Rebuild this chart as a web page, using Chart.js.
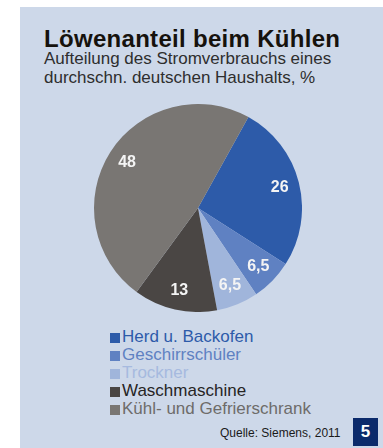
<!DOCTYPE html>
<html lang="de">
<head>
<meta charset="utf-8">
<title>Löwenanteil beim Kühlen</title>
<script src="https://cdn.jsdelivr.net/npm/chart.js@4.4.1/dist/chart.umd.min.js"></script>
<style>
  html, body { margin: 0; padding: 0; background: #fff; }
  body { width: 383px; height: 448px; position: relative; overflow: hidden;
         font-family: "Liberation Sans", Arial, sans-serif; }
  #panel { position: absolute; left: 20px; top: 7px; right: 0; bottom: 0; background: #cdd8e9; }
  .txt { position: absolute; white-space: nowrap; line-height: 1; }
  #title { left: 44px; top: 27px; font-size: 24px; font-weight: bold; color: #16120d; letter-spacing: 0.3px; }
  #sub1 { left: 44px; top: 50px; font-size: 17px; color: #2e2e2e; }
  #sub2 { left: 44px; top: 69px; font-size: 17px; color: #2e2e2e; }
  #pie { position: absolute; left: 94px; top: 104px; }
  #legend { position: absolute; left: 110px; top: 328px; }
  .item { position: relative; height: 18px; font-size: 17px; line-height: 18px; }
  .item i { position: absolute; left: 0; top: 5px; width: 10px; height: 10px; }
  .item span { position: absolute; left: 12px; top: 0; white-space: nowrap; }
  #source { left: 220px; top: 427px; font-size: 12px; color: #1a1a1a; }
  #page { position: absolute; left: 353px; top: 418px; width: 25px; height: 28px; background: #0b2a6b;
          color: #fff; font-weight: bold; font-size: 17px; line-height: 28px; text-align: center; }
</style>
</head>
<body>
<div id="panel"></div>
<div class="txt" id="title">Löwenanteil beim Kühlen</div>
<div class="txt" id="sub1">Aufteilung des Stromverbrauchs eines</div>
<div class="txt" id="sub2">durchschn. deutschen Haushalts, %</div>
<canvas id="pie" width="208" height="208"></canvas>
<div id="legend"></div>
<div class="txt" id="source">Quelle: Siemens, 2011</div>
<div id="page">5</div>
<script>
// Stromverbrauch nach Geräten, Anteil in %
var categories = ['Herd u. Backofen', 'Geschirrschüler', 'Trockner', 'Waschmaschine', 'Kühl- und Gefrierschrank'];
var shares = [26, 6.5, 6.5, 13, 48];
var sliceColors = ['#2d5ba9', '#5f81c2', '#a0b5db', '#4a4644', '#797673'];
var legendTextColors = ['#2d5ba9', '#5f81c2', '#a6badf', '#262424', '#6e6c6a'];

// values written inside the slices
var sliceLabels = {
  id: 'sliceLabels',
  afterDatasetsDraw: function (chart) {
    var ctx = chart.ctx;
    var meta = chart.getDatasetMeta(0);
    ctx.save();
    ctx.font = 'bold 16px "Liberation Sans", Arial, sans-serif';
    ctx.fillStyle = '#f4f4f4';
    ctx.textAlign = 'center';
    ctx.textBaseline = 'middle';
    meta.data.forEach(function (arc, i) {
      var p = arc.getProps(['x', 'y', 'startAngle', 'endAngle', 'outerRadius'], true);
      var mid = (p.startAngle + p.endAngle) / 2;
      var r = p.outerRadius * 0.81;
      var text = shares[i].toLocaleString('de-DE');
      ctx.fillText(text, p.x + Math.cos(mid) * r, p.y + Math.sin(mid) * r);
    });
    ctx.restore();
  }
};

new Chart(document.getElementById('pie'), {
  type: 'pie',
  data: {
    labels: categories,
    datasets: [{
      data: shares,
      backgroundColor: sliceColors,
      borderWidth: 0,
      hoverOffset: 0
    }]
  },
  options: {
    responsive: false,
    animation: false,
    rotation: 29,
    layout: { padding: 0 },
    plugins: {
      legend: { display: false },
      tooltip: { enabled: false }
    }
  },
  plugins: [sliceLabels]
});

// legend list below the pie
var legend = document.getElementById('legend');
categories.forEach(function (name, i) {
  var row = document.createElement('div');
  row.className = 'item';
  var box = document.createElement('i');
  box.style.background = sliceColors[i];
  var label = document.createElement('span');
  label.textContent = name;
  label.style.color = legendTextColors[i];
  row.appendChild(box);
  row.appendChild(label);
  legend.appendChild(row);
});
</script>
</body>
</html>
